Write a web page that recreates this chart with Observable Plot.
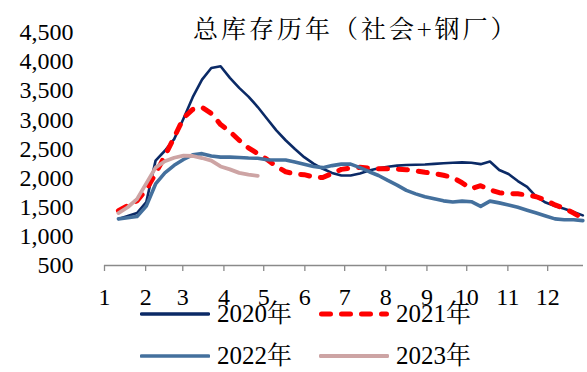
<!DOCTYPE html>
<html>
<head>
<meta charset="utf-8">
<script src="https://cdn.jsdelivr.net/npm/d3@7"></script>
<script src="https://cdn.jsdelivr.net/npm/@observablehq/plot@0.6"></script>
<style>
  body { margin: 0; background: #fff; }
  #chart { position: relative; width: 587px; height: 372px; overflow: hidden; background: #fff; }
  #chart svg.plotbox { position: absolute; left: 0; top: 0; }
  #chart svg.plotbox text { font-family: 'Liberation Serif', serif !important; font-size: 24px; }
  .title {
    position: absolute; left: 193px; top: 13px;
    font-family: 'Noto Serif CJK SC', serif; font-size: 25px; line-height: 28px;
    letter-spacing: 3px; white-space: nowrap; color: #000;
  }
  .legend-item { position: absolute; height: 30px; display: flex; align-items: center; }
  .legend-item span {
    font-family: 'Liberation Serif', 'Noto Serif CJK SC', serif; font-size: 25px;
    line-height: 30px; color: #000; margin-left: 7px; white-space: nowrap;
  }
</style>
</head>
<body>
<div id="chart"></div>
<script>
// Weekly total inventory (society + steel mills), one value per week starting at week 2
const firstWeek = 2;
const y2020 = [1300,1350,1400,1590,2300,2470,2670,3020,3390,3690,3890,3920,3720,3550,3400,3220,3020,2820,2650,2500,
               2360,2250,2160,2090,2045,2045,2080,2130,2170,2195,2215,2225,2230,2235,2245,2255,2265,2270,2265,2240,
               2285,2140,2070,1950,1850,1680,1580,1520,1475,1420,1360];
const y2021 = [1440,1530,1610,1800,2080,2380,2700,3030,3180,3215,3110,2920,2800,2650,2520,2420,2320,2200,2110,2070,
               2060,2020,2010,2080,2150,2175,2185,2170,2160,2160,2155,2145,2125,2100,2080,2050,2010,1920,1820,1870,
               1800,1750,1735,1730,1710,1680,1620,1540,1480,1400,1310];
const y2022 = [1300,1320,1340,1520,1900,2090,2220,2320,2400,2420,2380,2360,2360,2355,2345,2340,2315,2310,2310,2275,
               2240,2200,2180,2215,2240,2240,2180,2110,2045,1960,1880,1790,1730,1680,1645,1610,1590,1605,1595,1515,
               1605,1575,1540,1500,1450,1400,1350,1300,1285,1285,1270];
const y2023 = [1400,1500,1640,1910,2180,2290,2350,2385,2380,2345,2300,2200,2150,2090,2060,2040];

const seriesNames = ["2020年", "2021年", "2022年", "2023年"];
const seriesValues = [y2020, y2021, y2022, y2023];

// Axis ticks: month starts (day of year) labelled 1..12, and inventory levels
const monthStarts = [0, 31, 59, 90, 120, 151, 181, 212, 243, 273, 304, 334];
const monthLabels = ["1","2","3","4","5","6","7","8","9","10","11","12"];
const yTicks = [500, 1000, 1500, 2000, 2500, 3000, 3500, 4000, 4500];

const styles = [
  {stroke: "#0b2a66", strokeWidth: 2.6},
  {stroke: "#ff0000", strokeWidth: 5, strokeDasharray: "9,11"},
  {stroke: "#44709d", strokeWidth: 3.6},
  {stroke: "#cda4a4", strokeWidth: 3.8}
];

// day of year at the middle of each week
const toRows = (values) => values.map((v, i) => ({day: 7 * (i + firstWeek - 1) + 3.5, value: v}));

const lines = seriesValues.map((vals, k) =>
  Plot.line(toRows(vals), {
    x: "day", y: "value",
    strokeLinecap: "round", strokeLinejoin: "round",
    ...styles[k]
  })
);

const svg = Plot.plot({
  width: 587,
  height: 372,
  marginTop: 32,
  marginBottom: 107,
  marginLeft: 104,
  marginRight: 4,
  className: "plotbox",
  style: {fontFamily: "'Liberation Serif', serif", fontSize: "24px", color: "#000", background: "transparent"},
  x: {domain: [0, 361]},
  y: {domain: [500, 4500]},
  marks: [
    Plot.axisY({ticks: yTicks, tickFormat: d3.format(","), tickSize: 0, tickPadding: 31, label: null}),
    Plot.axisX({ticks: monthStarts, tickFormat: () => "", tickSize: 6, stroke: "#8a8a8a", strokeWidth: 1.3, label: null}),
    Plot.axisX({ticks: monthStarts, tickFormat: d => monthLabels[monthStarts.indexOf(d)], tickSize: 0, tickPadding: 22, label: null}),
    Plot.ruleY([500], {stroke: "#8a8a8a", strokeWidth: 1.3}),
    ...lines
  ]
});
svg.classList.add("plotbox");
svg.setAttribute("font-family", "Liberation Serif, serif");

const chart = document.getElementById("chart");
chart.appendChild(svg);

const title = document.createElement("div");
title.className = "title";
title.textContent = "总库存历年（社会+钢厂）";
chart.appendChild(title);

// Legend: two rows, two columns
const legendPos = [
  {left: 140, top: 299},
  {left: 319, top: 299},
  {left: 140, top: 341},
  {left: 319, top: 341}
];
seriesNames.forEach((name, k) => {
  const item = document.createElement("div");
  item.className = "legend-item";
  item.style.left = legendPos[k].left + "px";
  item.style.top = legendPos[k].top + "px";
  const s = styles[k];
  const ns = "http://www.w3.org/2000/svg";
  const sw = document.createElementNS(ns, "svg");
  sw.setAttribute("width", 70);
  sw.setAttribute("height", 10);
  const ln = document.createElementNS(ns, "line");
  const pad = s.strokeDasharray ? 2.5 : 1.5;
  ln.setAttribute("x1", pad); ln.setAttribute("x2", 70 - pad);
  ln.setAttribute("y1", 5); ln.setAttribute("y2", 5);
  ln.setAttribute("stroke", s.stroke);
  ln.setAttribute("stroke-width", Math.max(3.4, s.strokeWidth));
  ln.setAttribute("stroke-linecap", "round");
  if (s.strokeDasharray) ln.setAttribute("stroke-dasharray", s.strokeDasharray);
  sw.appendChild(ln);
  item.appendChild(sw);
  const label = document.createElement("span");
  label.textContent = name;
  item.appendChild(label);
  chart.appendChild(item);
});
</script>
</body>
</html>
